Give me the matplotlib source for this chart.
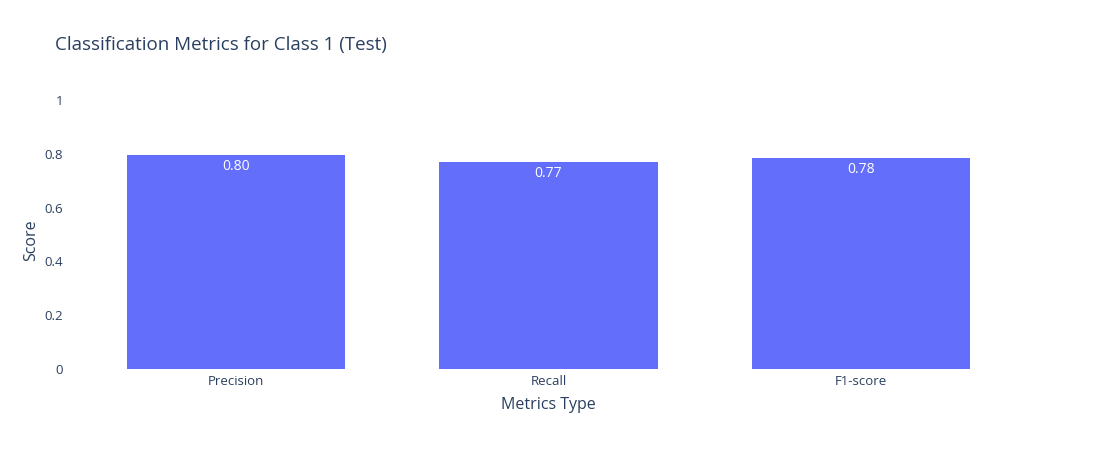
import matplotlib

matplotlib.use("Agg")
import matplotlib.pyplot as plt

metrics = ["Precision", "Recall", "F1-score"]
scores = [0.797, 0.769, 0.783]
y_ticks = [0, 0.2, 0.4, 0.6, 0.8, 1]
y_tick_labels = ["0", "0.2", "0.4", "0.6", "0.8", "1"]

text_color = "#2a3f5f"
bar_color = "#636efa"

plt.rcParams["font.family"] = ["Open Sans", "DejaVu Sans"]

W, H = 1097, 450
fig = plt.figure(figsize=(W / 100, H / 100), dpi=100)
ax = fig.add_axes([80 / W, 81 / H, 937 / W, 269 / H])

xs = range(len(metrics))
ax.bar(xs, scores, width=0.7, color=bar_color)
for x, s in zip(xs, scores):
    ax.text(x, s - 0.015, f"{s:.2f}", ha="center", va="top",
            color="white", fontsize=10)

ax.set_xlim(-0.5, len(metrics) - 0.5)
ax.set_ylim(0, 1)
ax.set_xticks(list(xs))
ax.set_xticklabels(metrics)
ax.set_yticks(y_ticks)
ax.set_yticklabels(y_tick_labels)
ax.tick_params(axis="both", length=0, colors=text_color, labelsize=9.5)
ax.tick_params(axis="x", pad=4)
ax.tick_params(axis="y", pad=12)
for sp in ax.spines.values():
    sp.set_visible(False)

fig.text(31 / W, 1 - 240 / H, "Score", rotation=90, ha="center", va="center",
         color=text_color, fontsize=11.5)
fig.text(548 / W, 1 - 405 / H, "Metrics Type", ha="center", va="center",
         color=text_color, fontsize=11.5)
fig.text(55 / W, 1 - 45 / H, "Classification Metrics for Class 1 (Test)",
         ha="left", va="center", color=text_color, fontsize=13.5)

fig.savefig("out.png", dpi=100)
